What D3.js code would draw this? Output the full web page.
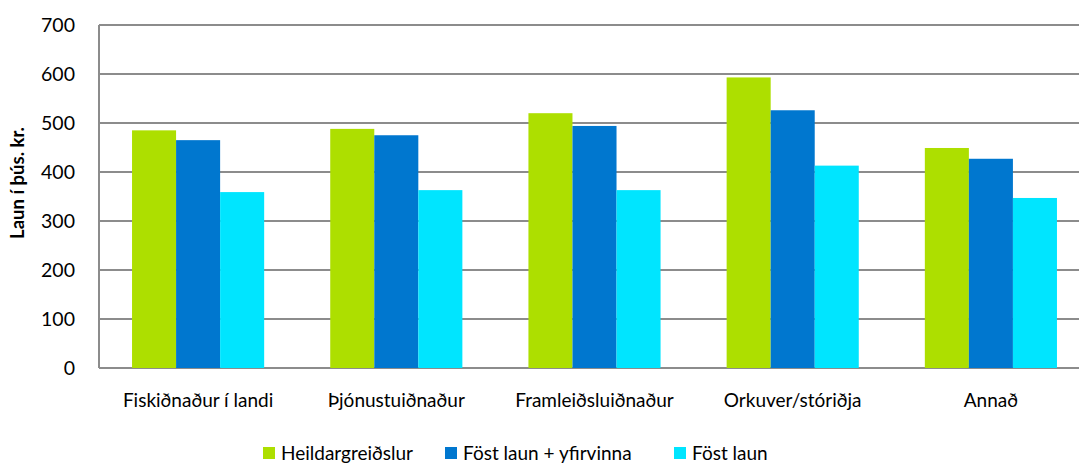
<!DOCTYPE html>
<html>
<head>
<meta charset="utf-8">
<script src="https://cdn.jsdelivr.net/npm/d3@7"></script>
<style>
  body { margin: 0; background: #fff; overflow: hidden; }
  svg text { font-family: Lato, "Open Sans", sans-serif; fill: #000; }
</style>
</head>
<body>
<div id="chart"></div>
<script>
// Données
const categories = ["Fiskiðnaður í landi", "Þjónustuiðnaður", "Framleiðsluiðnaður", "Orkuver/stóriðja", "Annað"];
const seriesNames = ["Heildargreiðslur", "Föst laun + yfirvinna", "Föst laun"];
const heildar = [485, 488, 520, 593, 449];
const yfirvinna = [465, 475, 494, 526, 427];
const fostLaun = [359, 363, 363, 413, 347];
const yTicks = [0, 100, 200, 300, 400, 500, 600, 700];
const colors = ["#addf00", "#0077cf", "#00e5ff"];

const series = [heildar, yfirvinna, fostLaun];

const width = 1079, height = 464;
// la zone du graphique dépasse un peu à droite (coupée)
const plotLeft = 99, plotRight = 1090, plotTop = 25, plotBottom = 368;

const svg = d3.select("#chart")
  .append("svg")
  .attr("width", width)
  .attr("height", height);

// échelles
const x = d3.scaleBand()
  .domain(categories)
  .range([plotLeft, plotRight]);

const bandInner = x.bandwidth() / 4.5; // largeur d'une barre (gap 150%)
const x1 = d3.scaleBand()
  .domain(seriesNames)
  .range([0, bandInner * 3]);

const y = d3.scaleLinear()
  .domain([0, 700])
  .range([plotBottom, plotTop]);

// grille
svg.append("g")
  .selectAll("line")
  .data(yTicks)
  .join("line")
  .attr("x1", plotLeft)
  .attr("x2", plotRight)
  .attr("y1", d => y(d))
  .attr("y2", d => y(d))
  .attr("stroke", "#8c8c8c")
  .attr("stroke-width", 2);

// axe vertical
svg.append("line")
  .attr("x1", plotLeft)
  .attr("x2", plotLeft)
  .attr("y1", y(700))
  .attr("y2", y(0))
  .attr("stroke", "#8c8c8c")
  .attr("stroke-width", 2);

// barres
const groups = svg.append("g")
  .selectAll("g")
  .data(categories)
  .join("g")
  .attr("transform", d => `translate(${x(d) + (x.bandwidth() - bandInner * 3) / 2},0)`);

groups.selectAll("rect")
  .data((c, i) => series.map((s, j) => ({ name: seriesNames[j], value: s[i], color: colors[j] })))
  .join("rect")
  .attr("x", d => x1(d.name))
  .attr("width", x1.bandwidth())
  .attr("y", d => y(d.value))
  .attr("height", d => y(0) - y(d.value))
  .attr("fill", d => d.color);

// étiquettes axe y
svg.append("g")
  .selectAll("text")
  .data(yTicks)
  .join("text")
  .attr("x", 75)
  .attr("y", d => y(d))
  .attr("dy", "0.35em")
  .attr("text-anchor", "end")
  .style("font-size", "19.5px")
  .text(d => d);

// titre axe y
svg.append("text")
  .attr("transform", "translate(24,183) rotate(-90)")
  .attr("text-anchor", "middle")
  .style("font-size", "18.5px")
  .style("font-weight", "bold")
  .text("Laun í þús. kr.");

// catégories
svg.append("g")
  .selectAll("text")
  .data(categories)
  .join("text")
  .attr("x", d => x(d) + x.bandwidth() / 2)
  .attr("y", 407)
  .attr("text-anchor", "middle")
  .style("font-size", "19px")
  .text(d => d);

// légende
const legendX = [263, 445, 674];
const legend = svg.append("g")
  .selectAll("g")
  .data(seriesNames)
  .join("g")
  .attr("transform", (d, i) => `translate(${legendX[i]},447)`);

legend.append("rect")
  .attr("width", 12)
  .attr("height", 12)
  .attr("fill", (d, i) => colors[i]);

legend.append("text")
  .attr("x", 18)
  .attr("y", 6)
  .attr("dy", "0.35em")
  .style("font-size", "19px")
  .text(d => d);
</script>
</body>
</html>
